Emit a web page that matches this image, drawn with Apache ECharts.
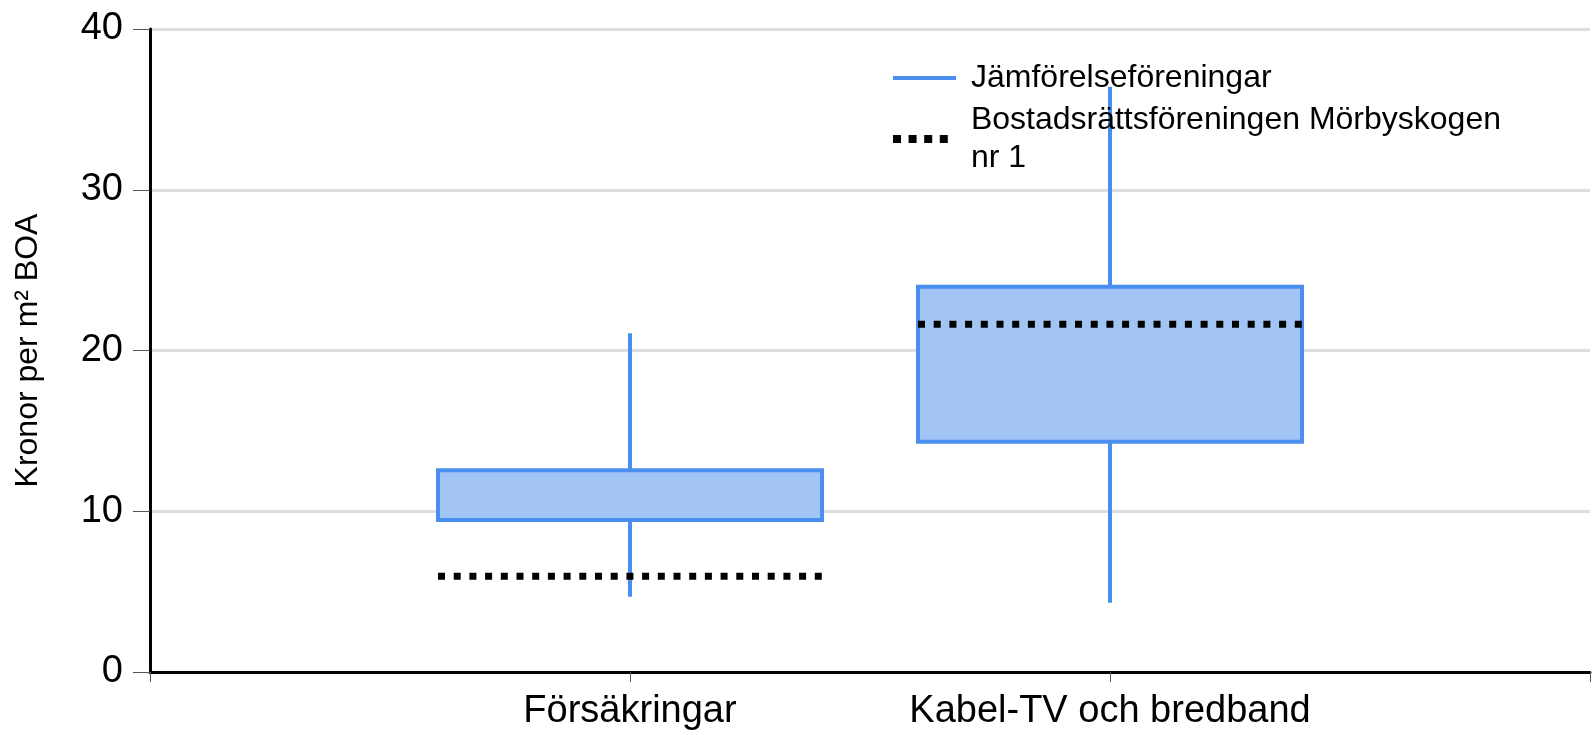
<!DOCTYPE html>
<html lang="sv">
<head>
    <meta charset="UTF-8">
    <title>Kronor per m² BOA</title>
    <script src="https://cdn.jsdelivr.net/npm/echarts@6/dist/echarts.min.js"></script>
    <style>
        html, body { margin: 0; padding: 0; background: #fff; }
        #main { width: 1593px; height: 735px; }
    </style>
</head>
<body>
    <div id="main"></div>

    <script>
        // data
        var categories = ['Försäkringar', 'Kabel-TV och bredband'];
        var whiskerLow = [4.68, 4.31];
        var q1 = [9.46, 14.33];
        var q3 = [12.55, 23.97];
        var whiskerHigh = [21.07, 36.4];
        var ownValue = [5.95, 21.63];
        var yTicks = [0, 10, 20, 30, 40];

        var compName = 'Jämförelseföreningar';
        var ownName = 'Bostadsrättsföreningen Mörbyskogen\nnr 1';

        var font = "'Liberation Sans', Arial, sans-serif";
        var blue = '#4a8ff0';
        var boxFill = '#a3c5f6';

        // blank slots at both ends so ticks land at the axis edges
        var axisData = [''].concat(categories, ['']);

        var boxData = categories.map(function (c, i) {
            return [i + 1, whiskerLow[i], q1[i], q3[i], whiskerHigh[i]];
        });
        var ownData = categories.map(function (c, i) {
            return [i + 1, ownValue[i]];
        });

        function renderBox(params, api) {
            var x = api.value(0);
            var half = api.size([1, 0])[0] * 0.4;
            var lo = api.coord([x, api.value(1)]);
            var b = api.coord([x, api.value(2)]);
            var t = api.coord([x, api.value(3)]);
            var hi = api.coord([x, api.value(4)]);
            return {
                type: 'group',
                children: [{
                    type: 'line',
                    shape: { x1: lo[0], y1: lo[1], x2: hi[0], y2: hi[1] },
                    style: { stroke: blue, lineWidth: 4 }
                }, {
                    type: 'rect',
                    shape: { x: b[0] - half, y: t[1], width: half * 2, height: b[1] - t[1] },
                    style: { fill: boxFill, stroke: blue, lineWidth: 4 }
                }]
            };
        }

        function renderOwn(params, api) {
            var x = api.value(0);
            var half = api.size([1, 0])[0] * 0.4;
            var p = api.coord([x, api.value(1)]);
            return {
                type: 'line',
                shape: { x1: p[0] - half, y1: p[1], x2: p[0] + half, y2: p[1] },
                style: { stroke: '#000', lineWidth: 7, lineDash: [7, 8.7], lineCap: 'butt' }
            };
        }

        var chart = echarts.init(document.getElementById('main'), null, { renderer: 'canvas' });

        var option = {
            animation: false,
            grid: { left: 150, right: 1, top: 29, bottom: 63 },
            legend: [{
                left: 893, top: 59, padding: 0,
                orient: 'vertical',
                selectedMode: false,
                itemWidth: 63, itemHeight: 4,
                data: [{ name: compName, icon: 'rect', itemStyle: { color: blue } }],
                textStyle: { fontFamily: font, fontSize: 32, lineHeight: 38, color: '#000', padding: [0, 0, 0, 10] }
            }, {
                left: 893, top: 101, padding: 0,
                orient: 'vertical',
                selectedMode: false,
                itemWidth: 55, itemHeight: 8,
                data: [{
                    name: ownName,
                    icon: 'path://M0,0h8v8h-8z M15.6,0h8v8h-8z M31.2,0h8v8h-8z M46.8,0h8v8h-8z',
                    itemStyle: { color: '#000' }
                }],
                textStyle: { fontFamily: font, fontSize: 32, lineHeight: 38, color: '#000', padding: [0, 0, 0, 18] }
            }],
            xAxis: {
                type: 'category',
                data: axisData,
                boundaryGap: false,
                axisLine: { lineStyle: { color: '#000', width: 3 } },
                axisTick: { show: true, interval: 0, length: 10, lineStyle: { color: '#555', width: 1 } },
                axisLabel: { interval: 0, margin: 21, fontFamily: font, fontSize: 38, color: '#000' },
                splitLine: { show: false }
            },
            yAxis: {
                type: 'value',
                min: yTicks[0],
                max: yTicks[yTicks.length - 1],
                interval: yTicks[1] - yTicks[0],
                name: 'Kronor per m² BOA',
                nameLocation: 'middle',
                nameRotate: 90,
                nameGap: 106,
                nameTextStyle: { fontFamily: font, fontSize: 32, color: '#000' },
                axisLine: { show: true, lineStyle: { color: '#000', width: 3 } },
                axisTick: { show: true, length: 17, lineStyle: { color: '#555', width: 1 } },
                axisLabel: { margin: 27, fontFamily: font, fontSize: 38, color: '#000' },
                splitLine: { show: true, lineStyle: { color: '#dedede', width: 3 } }
            },
            series: [{
                name: compName,
                type: 'custom',
                renderItem: renderBox,
                encode: { x: 0, y: [1, 2, 3, 4] },
                itemStyle: { color: blue },
                data: boxData,
                z: 2
            }, {
                name: ownName,
                type: 'custom',
                renderItem: renderOwn,
                encode: { x: 0, y: 1 },
                itemStyle: { color: '#000' },
                data: ownData,
                z: 3
            }]
        };

        chart.setOption(option);
    </script>
</body>
</html>
